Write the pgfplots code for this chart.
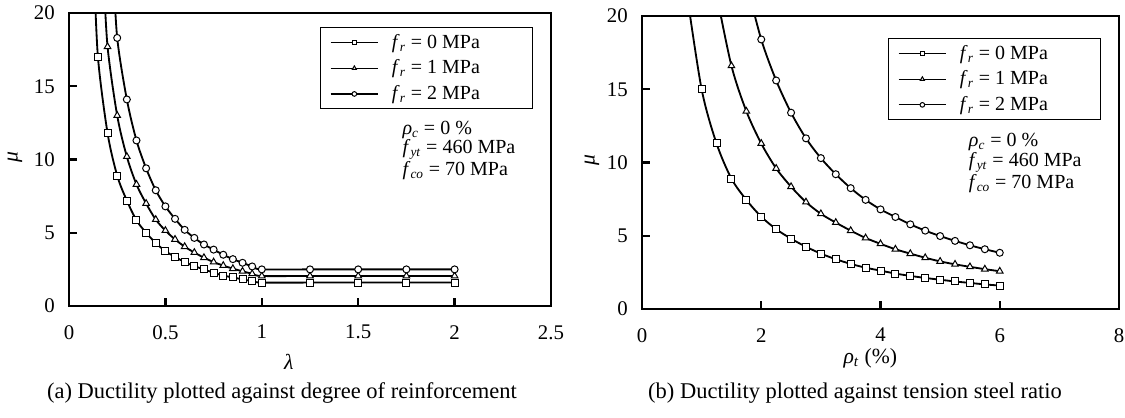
\documentclass[border=0pt]{standalone}
\usepackage{fontspec}
\setmainfont{Liberation Serif}
\usepackage{pgfplots}
\pgfplotsset{compat=1.18}

\newcommand{\sym}[2]{\textit{#1}\textsubscript{\textit{#2}}}
\newcommand{\fr}[1]{\makebox[76pt][l]{\sym{f}{r} = #1 MPa}}

\pgfplotsset{
  ductility/.style={
    scale only axis, height=175.8pt, ymin=0, ymax=20, ytick={0,5,...,20},
    clip mode=individual,
    axis line style={line width=1.6pt}, tick align=inside,
    xtick pos=left, ytick pos=left,
    major tick length=5pt, major tick style={line width=1.4pt, black},
    /pgf/number format/assume math mode=true,
    ticklabel style={font=\fontsize{12.5}{14}\selectfont},
    xticklabel style={yshift=-8pt}, yticklabel style={xshift=-5pt},
    legend style={anchor=north west, draw=black, line width=0.5pt,
      font=\fontsize{12}{13}\selectfont, inner xsep=6pt, inner ysep=2pt,
      row sep=1.5pt, column sep=6pt, legend cell align=left},
    legend image code/.code={\draw[#1, mark indices={2}, line width=0.7pt, mark size=1.4pt]
      plot coordinates {(0cm,0cm) (0.5cm,0cm) (1cm,0cm)};},
  },
  fr0/.style={black, line width=1.1pt, smooth, mark=square*, mark size=2.1pt,
    mark options={fill=white, line width=0.6pt}, mark indices={1,...,30}},
  fr1/.style={fr0, mark=triangle*, mark size=2.3pt},
  fr2/.style={fr0, mark=*},
}

\begin{document}
\begin{tikzpicture}
\useasboundingbox (0pt,0pt) rectangle (675pt,-250.2pt);

% (a) ductility vs degree of reinforcement
\begin{axis}[ductility, at={(41.4pt,-183.6pt)}, anchor=south west, width=289.2pt,
  xmin=0, xmax=2.5, xtick={0,0.5,...,2.5},
  legend style={at={(axis description cs:0.52,0.952)}}]
\addplot[fr0] coordinates {(0.13,23) (0.15,17.0) (0.2,11.8) (0.25,8.9) (0.3,7.2)
  (0.35,5.85) (0.4,5.0) (0.45,4.3) (0.5,3.75) (0.55,3.35) (0.6,3.0) (0.65,2.72)
  (0.7,2.5) (0.75,2.27) (0.8,2.08) (0.85,1.95) (0.9,1.82) (0.95,1.7) (1.0,1.6)
  (1.25,1.6) (1.5,1.6) (1.75,1.6) (2.0,1.6)};
\addlegendentry{\fr{0}}
\addplot[fr1] coordinates {(0.18,22.5) (0.2,17.7) (0.25,13.0) (0.3,10.2) (0.35,8.3)
  (0.4,7.0) (0.45,5.9) (0.5,5.15) (0.55,4.55) (0.6,4.05) (0.65,3.65) (0.7,3.3)
  (0.75,3.0) (0.8,2.76) (0.85,2.55) (0.9,2.37) (0.95,2.2) (1.0,2.05)
  (1.25,2.05) (1.5,2.05) (1.75,2.05) (2.0,2.05)};
\addlegendentry{\fr{1}}
\addplot[fr2] coordinates {(0.23,23) (0.25,18.3) (0.3,14.1) (0.35,11.3) (0.4,9.4)
  (0.45,7.9) (0.5,6.8) (0.55,5.95) (0.6,5.2) (0.65,4.65) (0.7,4.2) (0.75,3.85)
  (0.8,3.5) (0.85,3.2) (0.9,2.95) (0.95,2.7) (1.0,2.5)
  (1.25,2.5) (1.5,2.5) (1.75,2.5) (2.0,2.5)};
\addlegendentry{\fr{2}}
\node[rotate=90, font=\fontsize{13}{14}\selectfont] at (axis description cs:-0.112,0.51) {\textit{μ}};
\node[font=\fontsize{13}{14}\selectfont] at (axis cs:1.14,0) [yshift=-33.6pt] {\textit{λ}};
\begin{scope}[font=\fontsize{12}{13}\selectfont]
\node[anchor=base west] at (axis description cs:0.680,0.587) {\sym{ρ}{c} = 0 \%};
\node[anchor=base west] at (axis description cs:0.680,0.519) {\sym{f}{yt} = 460 MPa};
\node[anchor=base west] at (axis description cs:0.680,0.444) {\sym{f}{co} = 70 MPa};
\end{scope}
\end{axis}

% (b) ductility vs tension steel ratio
\begin{axis}[ductility, at={(385.2pt,-185.4pt)}, anchor=south west, width=286.2pt,
  xmin=0, xmax=8, xtick={0,2,...,8},
  legend style={at={(axis description cs:0.515,0.925)}}]
\addplot[fr0] coordinates {(0.75,21.6) (1.0,15.0) (1.25,11.3) (1.5,8.9) (1.75,7.45)
  (2.0,6.3) (2.25,5.45) (2.5,4.8) (2.75,4.25) (3.0,3.78) (3.25,3.4) (3.5,3.08)
  (3.75,2.82) (4.0,2.62) (4.25,2.42) (4.5,2.26) (4.75,2.12) (5.0,2.0)
  (5.25,1.88) (5.5,1.78) (5.75,1.68) (6.0,1.6)};
\addlegendentry{\fr{0}}
\addplot[fr1] coordinates {(1.25,21.5) (1.5,16.6) (1.75,13.5) (2.0,11.3) (2.25,9.6)
  (2.5,8.35) (2.75,7.3) (3.0,6.5) (3.25,5.9) (3.5,5.35) (3.75,4.85) (4.0,4.45)
  (4.25,4.08) (4.5,3.78) (4.75,3.5) (5.0,3.25) (5.25,3.05) (5.5,2.88)
  (5.75,2.72) (6.0,2.58)};
\addlegendentry{\fr{1}}
\addplot[fr2] coordinates {(1.75,22.3) (2.0,18.4) (2.25,15.6) (2.5,13.4) (2.75,11.65)
  (3.0,10.3) (3.25,9.2) (3.5,8.25) (3.75,7.45) (4.0,6.8) (4.25,6.28) (4.5,5.78)
  (4.75,5.35) (5.0,4.98) (5.25,4.65) (5.5,4.35) (5.75,4.08) (6.0,3.84)};
\addlegendentry{\fr{2}}
\node[rotate=90, font=\fontsize{13}{14}\selectfont] at (axis description cs:-0.105,0.51) {\textit{μ}};
\node[font=\fontsize{13}{14}\selectfont] at (axis cs:3.83,0) [yshift=-29.4pt] {\sym{ρ}{t} (\%)};
\begin{scope}[font=\fontsize{12}{13}\selectfont]
\node[anchor=base west] at (axis description cs:0.673,0.553) {\sym{ρ}{c} = 0 \%};
\node[anchor=base west] at (axis description cs:0.673,0.485) {\sym{f}{yt} = 460 MPa};
\node[anchor=base west] at (axis description cs:0.673,0.410) {\sym{f}{co} = 70 MPa};
\end{scope}
\end{axis}

\node[font=\fontsize{13.5}{15}\selectfont] at (169.2pt,-235.8pt) {(a) Ductility plotted against degree of reinforcement};
\node[font=\fontsize{13.5}{15}\selectfont] at (513pt,-235.8pt) {(b) Ductility plotted against tension steel ratio};
\end{tikzpicture}
\end{document}
